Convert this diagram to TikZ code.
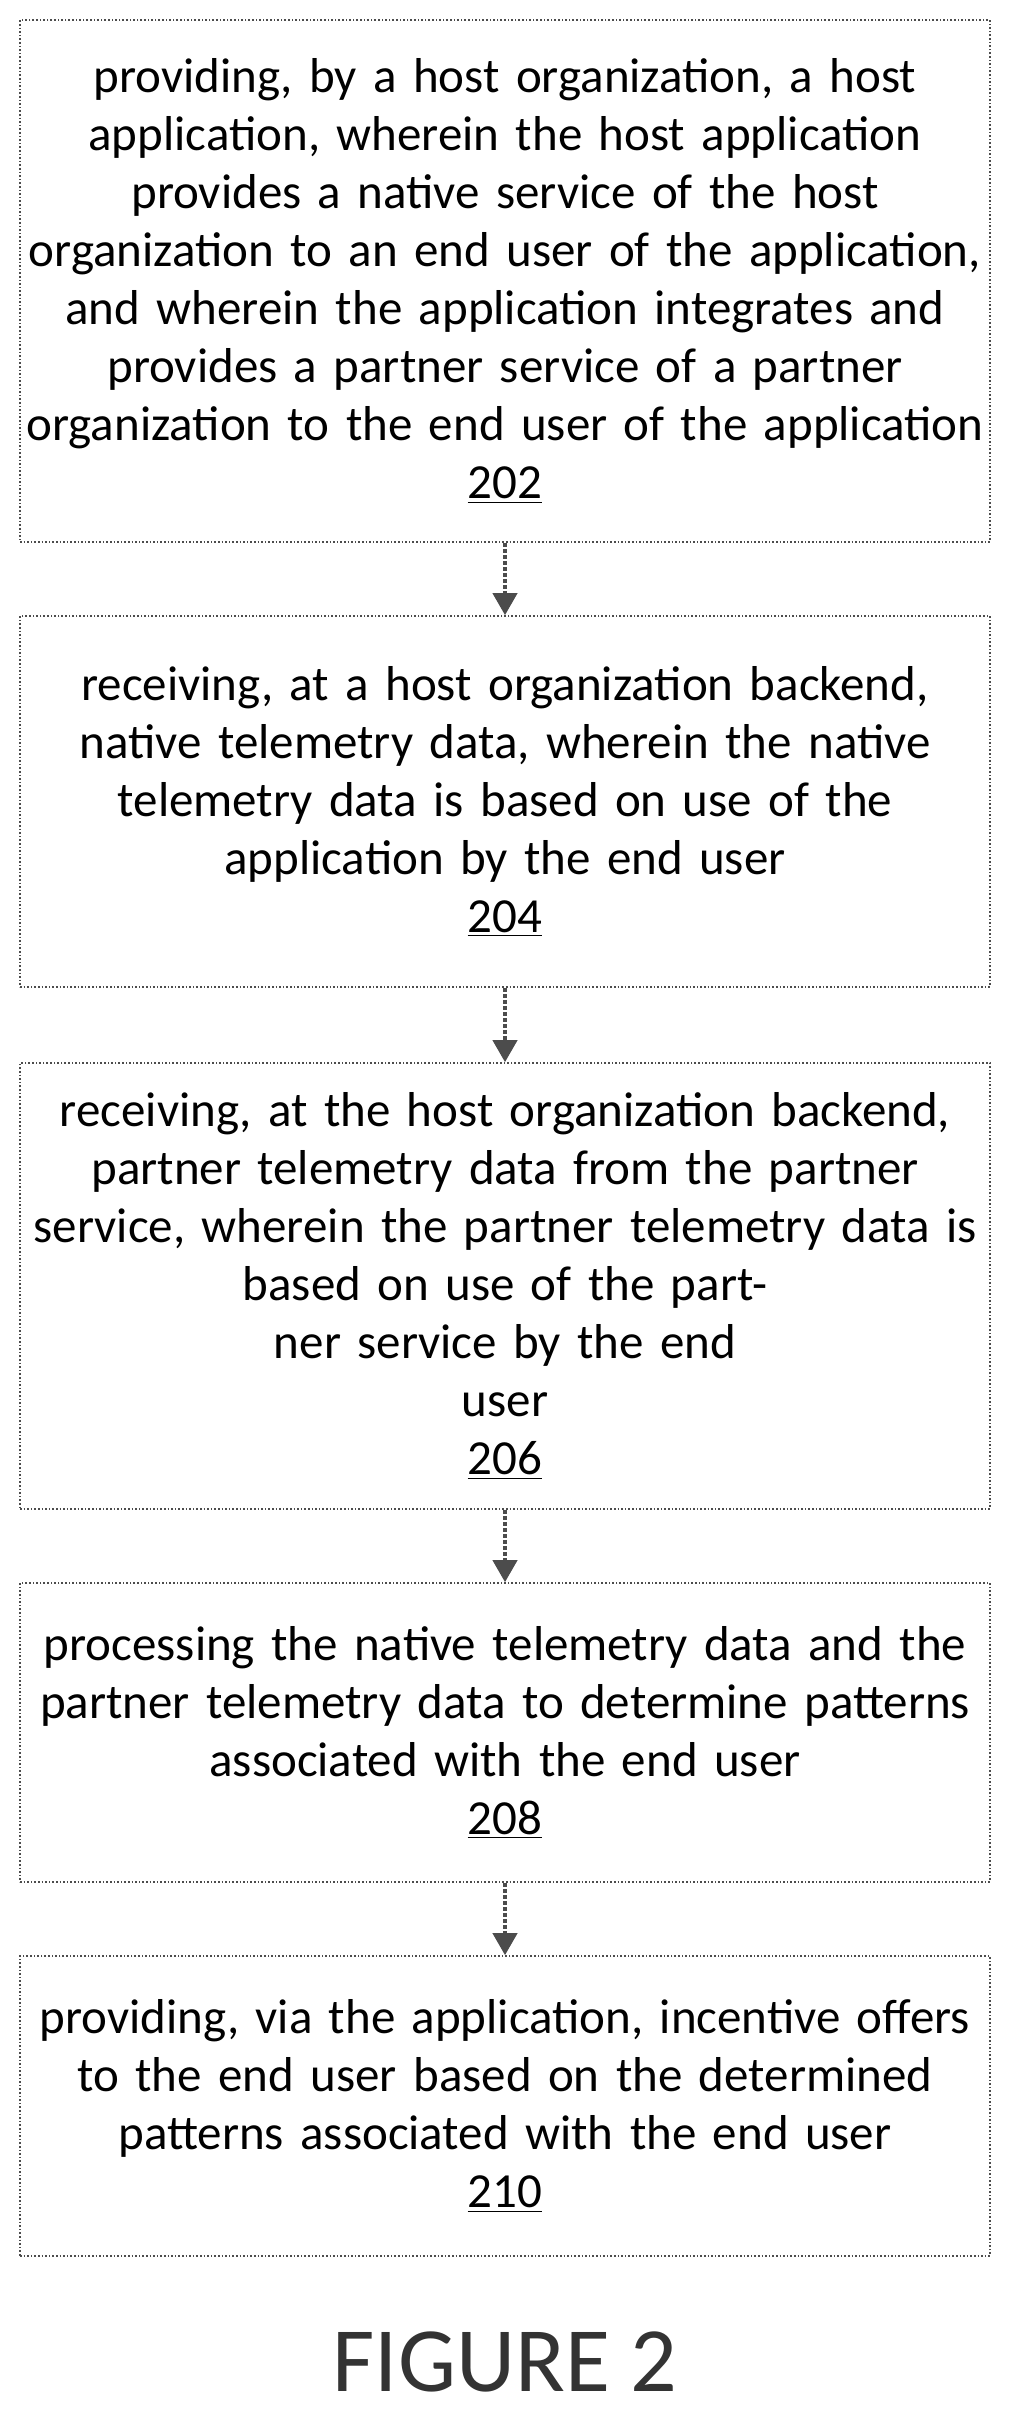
\documentclass[tikz,border=0pt]{standalone}
\usetikzlibrary{arrows.meta}
\usepackage{fontspec}
\setmainfont{Carlito}
\begin{document}
\begin{tikzpicture}[x=0.5pt,y=-0.5pt,
  stepbox/.style={draw=black!70,line width=0.8pt,densely dotted,rectangle,minimum width=485pt,text width=482pt,align=center,font=\fontsize{24.5}{29}\selectfont,inner sep=0pt},
  arr/.style={-{Triangle[length=11pt,width=12pt]},line width=2pt,draw=black!70,densely dotted}]
\useasboundingbox (0,0) rectangle (1016,2429);
\node[stepbox,minimum height=261pt] (a) at (505,281) {providing, by a host organization, a host\\application, wherein the host application\\provides a native service of the host\\organization to an end user of the application,\\and wherein the application integrates and\\provides a partner service of a partner\\organization to the end user of the application\\\underline{202}};
\node[stepbox,minimum height=185.5pt] (b) at (505,801.5) {receiving, at a host organization backend,\\native telemetry data, wherein the native\\telemetry data is based on use of the\\application by the end user\\\underline{204}};
\node[stepbox,minimum height=223pt] (c) at (505,1286) {receiving, at the host organization backend,\\partner telemetry data from the partner\\service, wherein the partner telemetry data is\\based on use of the partner service by the end\\user\\\underline{206}};
\node[stepbox,minimum height=149.5pt] (d) at (505,1732.5) {processing the native telemetry data and the\\partner telemetry data to determine patterns\\associated with the end user\\\underline{208}};
\node[stepbox,minimum height=150pt] (e) at (505,2106) {providing, via the application, incentive offers\\to the end user based on the determined\\patterns associated with the end user\\\underline{210}};
\draw[arr] (a) -- (b);
\draw[arr] (b) -- (c);
\draw[arr] (c) -- (d);
\draw[arr] (d) -- (e);
\node[font=\fontsize{46}{50}\selectfont,text=black!80] (f) at (505,2362) {FIGURE 2};
\end{tikzpicture}
\end{document}
